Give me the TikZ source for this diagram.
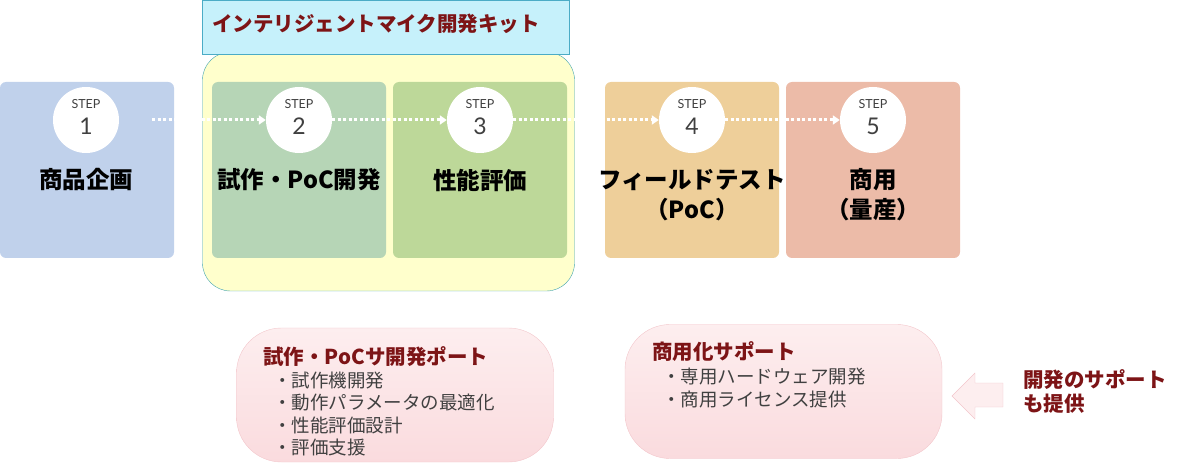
\documentclass[tikz,border=0pt]{standalone}
\usepackage{fontspec}
\setmainfont{Noto Sans CJK JP}
\newfontfamily\numfont{Lato}
\usetikzlibrary{arrows.meta}
\definecolor{cStepA}{HTML}{C0D1EB}
\definecolor{cStepB}{HTML}{B6D5B6}
\definecolor{cStepC}{HTML}{BDD899}
\definecolor{cStepD}{HTML}{EECF9A}
\definecolor{cStepE}{HTML}{ECBBA8}
\definecolor{cKit}{HTML}{FFFFCC}
\definecolor{cKitLine}{HTML}{3FA3AE}
\definecolor{cTitle}{HTML}{C6F1FB}
\definecolor{cTitleLine}{HTML}{4BACC6}
\definecolor{cRed}{HTML}{7D1416}
\definecolor{cGray}{HTML}{404040}
\definecolor{cPinkTop}{HTML}{FDEEEF}
\definecolor{cPinkBot}{HTML}{FADBDE}
\definecolor{cPinkLine}{HTML}{F3C6CB}

\begin{document}
\begin{tikzpicture}[x=1pt,y=-1pt,
      stepbox/.style={rounded corners=6pt,minimum width=174pt,minimum height=176pt,inner sep=0pt},
      stepcirc/.style={circle,fill=white,minimum size=66pt,inner sep=0pt},
      steptag/.style={text=cGray,inner sep=0pt,font=\numfont\fontsize{12.5}{14}\selectfont},
      stepnum/.style={text=cGray,inner sep=0pt,font=\numfont\fontsize{23}{26}\selectfont},
      steplbl/.style={align=center,text=black,inner sep=0pt,font=\fontsize{23.5}{30}\selectfont\bfseries},
      dotarr/.style={white,line width=3pt,dash pattern=on 3pt off 2.5pt,
                     -{Triangle[length=7pt,width=9pt]}},
      supbox/.style={draw=cPinkLine,top color=cPinkTop,bottom color=cPinkBot,
                     rounded corners=45pt,minimum width=317pt,minimum height=134pt,inner sep=0pt},
      suphead/.style={anchor=west,inner sep=0pt,text=cRed,font=\fontsize{20.5}{24}\selectfont\bfseries},
      supitem/.style={anchor=west,inner sep=0pt,text=cGray,font=\fontsize{18.5}{22}\selectfont}]
    \useasboundingbox (0,0) rectangle (1187,473);
    % kit frame and title
    \node[draw=cKitLine,fill=cKit,rounded corners=28pt,minimum width=372pt,minimum height=239pt,
          inner sep=0pt] (kit) at (388.5,171.5) {};
    \node[draw=cTitleLine,fill=cTitle,minimum width=367pt,minimum height=54pt,inner sep=0pt]
          (kittitle) at (385.5,27) {};
    \node[anchor=west,inner sep=0pt,text=cRed,font=\fontsize{20.5}{24}\selectfont\bfseries]
          (kitlbl) at (212,24) {インテリジェントマイク開発キット};
    % steps
    \node[stepbox,fill=cStepA] (s1) at (87,170) {};
    \node[stepbox,fill=cStepB] (s2) at (299,170) {};
    \node[stepbox,fill=cStepC] (s3) at (480,170) {};
    \node[stepbox,fill=cStepD] (s4) at (692,170) {};
    \node[stepbox,fill=cStepE] (s5) at (873,170) {};
    \coordinate (go) at (152,120);
    \foreach \i/\x in {1/86,2/299,3/480,4/692,5/873}{
      \node[stepcirc] (c\i) at (\x,120) {};
      \node[steptag] at (\x,104) {STEP};
      \node[stepnum] at (\x,126) {\i};
    }
    \draw[dotarr] (go) -- (c2.west);
    \draw[dotarr] (c2.east) -- (c3.west);
    \draw[dotarr] (c3.east) -- (c4.west);
    \draw[dotarr] (c4.east) -- (c5.west);
    \node[steplbl] (t1) at (86,180) {商品企画};
    \node[steplbl] (t2) at (299,180) {試作・PoC開発};
    \node[steplbl] (t3) at (480,180) {性能評価};
    \node[steplbl] (t4) at (692,195) {フィールドテスト\\（PoC）};
    \node[steplbl] (t5) at (873,195) {商用\\（量産）};
    % support boxes
    \node[supbox] (poc) at (395,395) {};
    \node[suphead] at (263,357) {試作・PoCサ開発ポート};
    \node[supitem] at (273,381) {・試作機開発};
    \node[supitem] at (273,403) {・動作パラメータの最適化};
    \node[supitem] at (273,425) {・性能評価設計};
    \node[supitem] at (273,447) {・評価支援};
    \node[supbox] (com) at (783.5,391.5) {};
    \node[suphead] at (652,352) {商用化サポート};
    \node[supitem] at (662,377) {・専用ハードウェア開発};
    \node[supitem] at (662,400) {・商用ライセンス提供};
    % side note
    \fill[cPinkTop,draw=cPinkLine] (952,396) -- (975,373) -- (975,383) -- (1003,383)
      -- (1003,407) -- (975,407) -- (975,419) -- cycle;
    \node[anchor=west,align=left,inner sep=0pt,text=cRed,font=\fontsize{20.5}{24}\selectfont\bfseries]
      (note) at (1023,391) {開発のサポート\\も提供};
  \end{tikzpicture}
\end{document}
